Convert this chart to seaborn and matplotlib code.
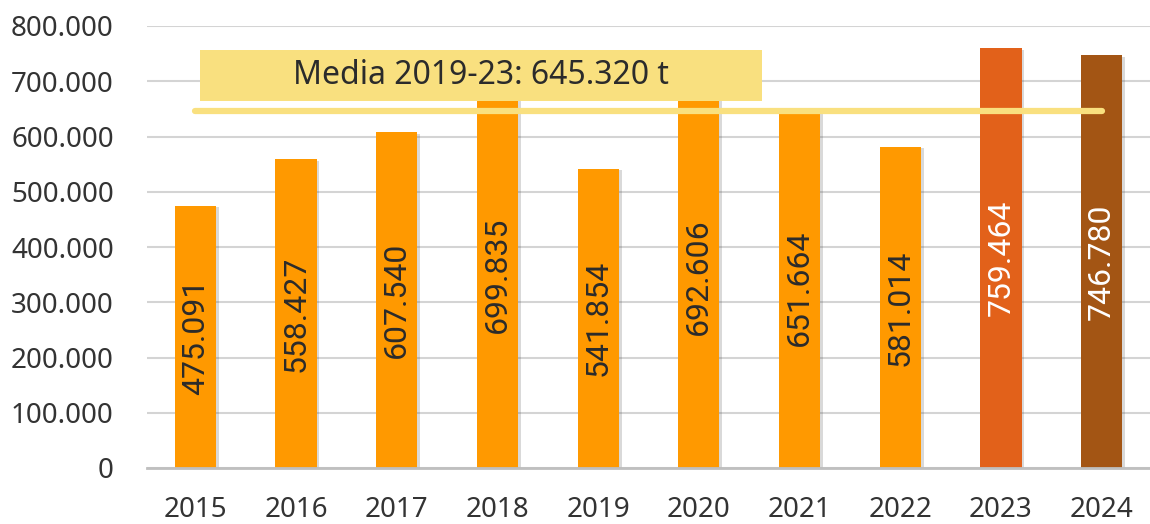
import matplotlib.pyplot as plt
import matplotlib.patheffects as pe
import pandas as pd
import seaborn as sns
from matplotlib.patches import Rectangle

# Data
years = ['2015', '2016', '2017', '2018', '2019', '2020', '2021', '2022', '2023', '2024']
tonnes = [475091, 558427, 607540, 699835, 541854, 692606, 651664, 581014, 759464, 746780]
bar_colors = ['#FF9900'] * 8 + ['#E2611A', '#A35514']
label_colors = ['#2B2B2B'] * 8 + ['white', 'white']
mean_years = ['2019', '2020', '2021', '2022', '2023']
yticks = [0, 100000, 200000, 300000, 400000, 500000, 600000, 700000, 800000]

df = pd.DataFrame({'year': years, 'value': tonnes})
media = df[df['year'].isin(mean_years)]['value'].mean()


def fmt(v):
    return f'{v:,.0f}'.replace(',', '.')


sns.set_theme(style='white')
plt.rcParams['font.family'] = ['Noto Sans', 'DejaVu Sans']

fig, ax = plt.subplots(figsize=(11.5, 5.24), dpi=100)
fig.subplots_adjust(left=147 / 1150, right=1.0, bottom=56 / 524, top=498 / 524)

sns.barplot(df, x='year', y='value', hue='year', palette=bar_colors,
            legend=False, width=0.41, saturation=1, linewidth=0, ax=ax, zorder=2)

# soft shadow on bars
for p in ax.patches:
    p.set_path_effects([pe.SimplePatchShadow(offset=(2, -1), alpha=0.2, shadow_rgbFace='#444444'),
                        pe.Normal()])

# value labels inside bars
for i, (v, c) in enumerate(zip(tonnes, label_colors)):
    ax.text(i, v / 2, fmt(v), rotation=90, ha='center', va='center',
            fontsize=23, color=c, family='Roboto', zorder=3)

# average line and its box
ax.plot([0, len(years) - 1], [media, media], color='#F9E07F', lw=4.5,
        solid_capstyle='round', zorder=4)
ax.add_patch(Rectangle((0.05, 664000), 5.58, 92500, facecolor='#F9E07F',
                       edgecolor='none', zorder=5))
ax.text(2.84, 710000, f'Media 2019-23: {fmt(round(media))} t', ha='center',
        va='center', fontsize=23, color='#2B2B2B', zorder=6)

ax.set_ylim(0, 800000)
ax.set_xlim(-0.48, 9.48)
ax.set_yticks(yticks)
ax.set_yticklabels([fmt(t) for t in yticks])
ax.yaxis.grid(True, color='#D4D4D4', lw=1.5, zorder=0)
ax.set_axisbelow(True)
ax.set(xlabel='', ylabel='')
ax.tick_params(axis='y', labelsize=20, labelcolor='#333333', pad=24, length=0)
ax.tick_params(axis='x', labelsize=20, labelcolor='#333333', pad=20, length=0)
for s in ['top', 'right', 'left']:
    ax.spines[s].set_visible(False)
ax.spines['bottom'].set_color('#BFBFBF')
ax.spines['bottom'].set_linewidth(2)

fig.savefig('out.png', dpi=100)
